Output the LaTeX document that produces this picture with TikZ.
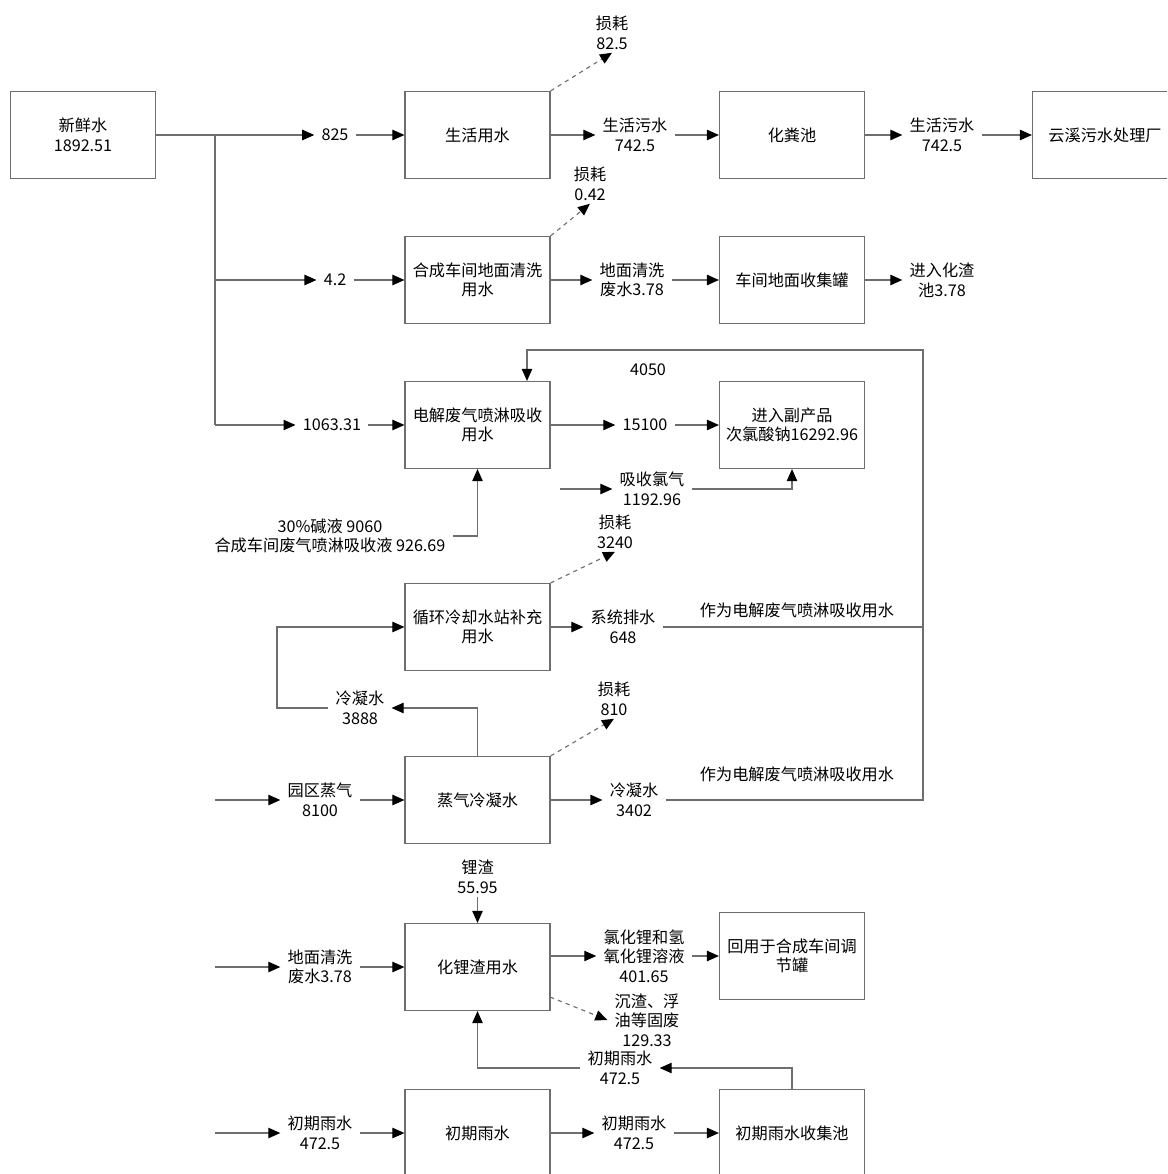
\documentclass[tikz,border=0pt]{standalone}
\usepackage{fontspec}
\setmainfont{Noto Sans CJK SC}
\usetikzlibrary{positioning,arrows.meta}
\definecolor{wgrey}{HTML}{6E6E6E}

\begin{document}
\begin{tikzpicture}[x=0.025cm,y=-0.025cm,font=\fontsize{11.5}{13.9}\selectfont,
  box/.style={draw=wgrey,line width=0.8pt,minimum width=3.625cm,minimum height=2.175cm,align=center,inner sep=2pt},
  lbl/.style={align=center,inner xsep=5pt,inner ysep=2pt},
  pipe/.style={wgrey,line width=0.8pt},
  flow/.style={pipe,-{Triangle[length=3mm,width=2.6mm,black]}},
  loss/.style={flow,dashed}]
  \useasboundingbox (0,0) rectangle (1167,1174);
  \clip (0,0) rectangle (1167,1174);
  % process boxes
  \foreach \n/\x/\y/\t in {
      fresh/83/135/{新鲜水\\1892.51},
      live/477.5/135/{生活用水},
      septic/792/135/{化粪池},
      plant/1105/135/{云溪污水处理厂},
      floorw/477.5/280/{合成车间地面清洗\\用水},
      tank/792/280/{车间地面收集罐},
      elec/477.5/425/{电解废气喷淋吸收\\用水},
      naclo/792/425/{进入副产品\\次氯酸钠16292.96},
      cool/477.5/627/{循环冷却水站补充\\用水},
      steam/477.5/800/{蒸气冷凝水},
      lislag/477.5/967/{化锂渣用水},
      reuse/792/956/{回用于合成车间调\\节罐},
      rainb/477.5/1133/{初期雨水},
      rainpool/792/1133/{初期雨水收集池}} {
    \node[box] (\n) at (\x,\y) {\t};
  }
  % flow labels
  \foreach \n/\x/\y/\t in {
      l825/335/135/{825},
      l42/335/280/{4.2},
      l1063/332/425/{1063.31},
      lsew1/635/135/{生活污水\\742.5},
      lsew2/942/135/{生活污水\\742.5},
      lfloor/632/280/{地面清洗\\废水3.78},
      lslag/942/280/{进入化渣\\池3.78},
      lloss1/612/33/{损耗\\82.5},
      lloss2/590/184/{损耗\\0.42},
      l15100/645/425/{15100},
      l4050/648/370/{4050},
      lcl/652/489/{吸收氯气\\1192.96},
      lalk/330/536/{30\%碱液 9060\\合成车间废气喷淋吸收液 926.69},
      lloss3/615/532/{损耗\\3240},
      ldrain/623/627/{系统排水\\648},
      lnote1/797/610/{作为电解废气喷淋吸收用水},
      lcond1/360/708/{冷凝水\\3888},
      lloss4/614/699/{损耗\\810},
      lsteam/320/800/{园区蒸气\\8100},
      lcond2/634/800/{冷凝水\\3402},
      lnote2/797/774/{作为电解废气喷淋吸收用水},
      lli/477.5/877/{锂渣\\55.95},
      lfloor2/320/967/{地面清洗\\废水3.78},
      llicl/644/956/{氯化锂和氢\\氧化锂溶液\\401.65},
      lsolid/647/1020/{沉渣、浮\\油等固废\\129.33},
      lrain1/620/1068/{初期雨水\\472.5},
      lrain2/320/1133/{初期雨水\\472.5},
      lrain3/634/1133/{初期雨水\\472.5}} {
    \node[lbl] (\n) at (\x,\y) {\t};
  }
  \coordinate (tr1) at (215,135);
  \coordinate (tr2) at (215,280);
  \coordinate (tr3) at (215,425);
  \coordinate (fbx) at (923,350);
  \coordinate (fbtop) at (527,350);
  \coordinate (clin) at (560,489);
  \coordinate (cl) at (277,627);
  \coordinate (st0) at (215,800);
  \coordinate (lf0) at (215,967);
  \coordinate (sw0) at (550,997);
  \coordinate (rn0) at (215,1133);

  % fresh water trunk
  \draw[flow] (fresh.east) -- (l825.west);
  \draw[pipe] (tr1) -- (tr3);
  \draw[flow] (tr2) -- (l42.west);
  \draw[flow] (tr3) -- (l1063.west);
  % domestic water
  \draw[flow] (l825.east) -- (live.west);
  \draw[flow] (live.east) -- (lsew1.west);
  \draw[flow] (lsew1.east) -- (septic.west);
  \draw[flow] (septic.east) -- (lsew2.west);
  \draw[flow] (lsew2.east) -- (plant.west);
  \draw[loss] (live.north east) -- (lloss1.south);
  % floor washing
  \draw[flow] (l42.east) -- (floorw.west);
  \draw[flow] (floorw.east) -- (lfloor.west);
  \draw[flow] (lfloor.east) -- (tank.west);
  \draw[flow] (tank.east) -- (lslag.west);
  \draw[loss] (floorw.north east) -- (lloss2.south);
  % electrolysis off-gas scrubbing
  \draw[flow] (l1063.east) -- (elec.west);
  \draw[flow] (elec.east) -- (l15100.west);
  \draw[flow] (l15100.east) -- (naclo.west);
  \draw[flow] (clin) -- (lcl.west);
  \draw[flow] (lcl.east) -| (naclo.south);
  \draw[flow] (lalk.east) -| (elec.south);
  \draw[flow] (lcond2.east) -| (fbx) -- (fbtop) -- (fbtop |- elec.north);
  \draw[pipe] (ldrain.east) -- (ldrain.east -| fbx);
  % cooling water and steam
  \draw[flow] (cool.east) -- (ldrain.west);
  \draw[loss] (cool.north east) -- (lloss3.south);
  \draw[flow] (steam.north) |- (lcond1.east);
  \draw[flow] (lcond1.west) -| (cl) -- (cool.west);
  \draw[flow] (st0) -- (lsteam.west);
  \draw[flow] (lsteam.east) -- (steam.west);
  \draw[flow] (steam.east) -- (lcond2.west);
  \draw[loss] (steam.north east) -- (lloss4.south);
  % lithium slag
  \draw[flow] (lli.south) -- (lislag.north);
  \draw[flow] (lf0) -- (lfloor2.west);
  \draw[flow] (lfloor2.east) -- (lislag.west);
  \draw[flow] (lislag.east |- llicl) -- (llicl.west);
  \draw[flow] (llicl.east) -- (reuse.west);
  \draw[loss] (sw0) -- (lsolid.west);
  % initial rain water
  \draw[flow] (rn0) -- (lrain2.west);
  \draw[flow] (lrain2.east) -- (rainb.west);
  \draw[flow] (rainb.east) -- (lrain3.west);
  \draw[flow] (lrain3.east) -- (rainpool.west);
  \draw[flow] (rainpool.north) |- (lrain1.east);
  \draw[flow] (lrain1.west) -| (lislag.south);
\end{tikzpicture}
\end{document}
